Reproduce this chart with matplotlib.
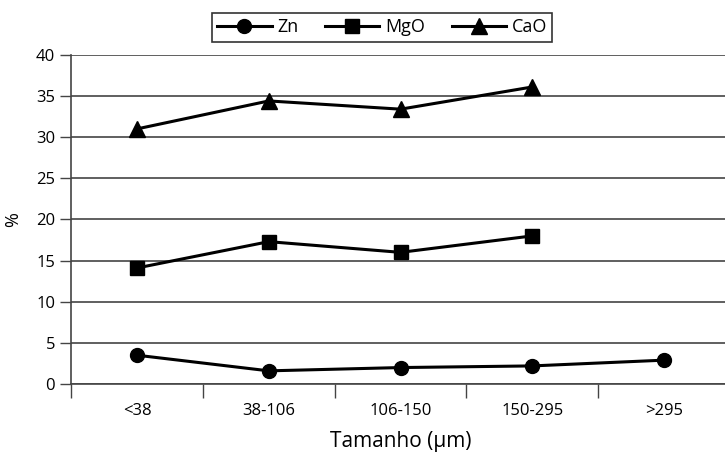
import matplotlib.pyplot as plt

# dados
categorias = ["<38", "38-106", "106-150", "150-295", ">295"]
zn = [3.5, 1.6, 2.0, 2.2, 2.9]
mgo = [14.1, 17.3, 16.0, 18.0]
cao = [31.0, 34.4, 33.4, 36.1]

plt.rcParams["font.family"] = ["Open Sans", "DejaVu Sans"]

fig = plt.figure(figsize=(7.25, 4.61), dpi=100)
ax = fig.add_axes([0.098, 0.167, 0.909, 0.714])

x = list(range(len(categorias)))
estilo = dict(color="black", lw=2.2, mfc="black", mec="black")
ax.plot(x, zn, marker="o", ms=10, label="Zn", **estilo)
ax.plot(x[:len(mgo)], mgo, marker="s", ms=9.5, label="MgO", **estilo)
ax.plot(x[:len(cao)], cao, marker="^", ms=11, label="CaO", **estilo)

ax.set_xlim(-0.5, 4.5)
ax.set_ylim(0, 40)
ax.set_yticks(range(0, 41, 5))
ax.yaxis.grid(True, color="#444444", lw=1.2)
ax.set_axisbelow(True)

ax.set_xticks(x)
ax.set_xticklabels(categorias, fontsize=12)
ax.set_xticks([i + 0.5 for i in range(-1, 5)], minor=True)
ax.tick_params(axis="x", which="major", length=0, pad=14)
ax.tick_params(axis="x", which="minor", length=10, width=1, color="#444444")
ax.tick_params(axis="y", length=8, width=1, color="#444444", labelsize=12)

for s in ["top", "right"]:
    ax.spines[s].set_visible(False)
ax.spines["left"].set_color("#444444")
ax.spines["bottom"].set_color("#444444")
ax.spines["left"].set_linewidth(1.2)
ax.spines["bottom"].set_linewidth(1.2)

ax.set_ylabel("%", fontsize=13, labelpad=10)
ax.set_xlabel("Tamanho (μm)", fontsize=15, labelpad=8)

leg = fig.legend(loc="center", bbox_to_anchor=(0.527, 0.941), ncol=3, fontsize=13,
                 frameon=True, fancybox=False, edgecolor="black", handlelength=3.0,
                 columnspacing=1.5, handletextpad=0.3, borderpad=0.3, borderaxespad=0)
leg.get_frame().set_linewidth(1.2)

fig.savefig("out.png", dpi=100)
